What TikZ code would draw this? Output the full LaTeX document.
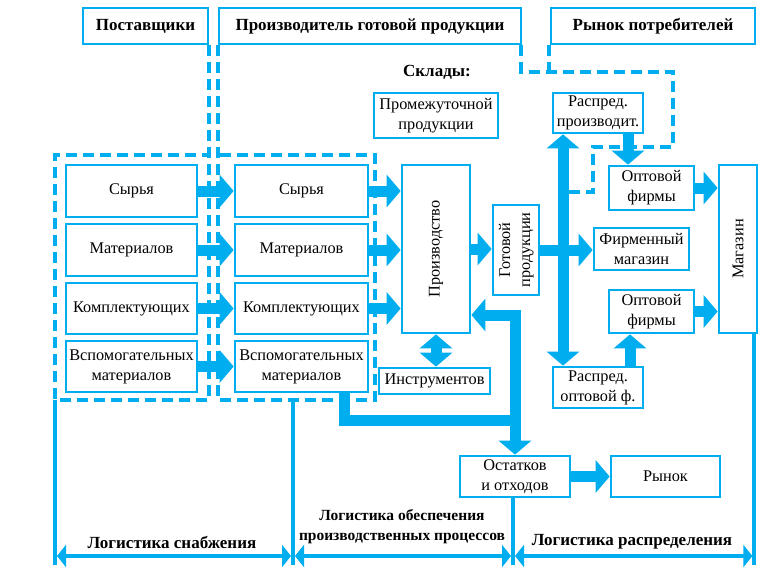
\documentclass[tikz,border=0pt]{standalone}
\usepackage{fontspec}
\setmainfont{Liberation Serif}
\usepackage{graphicx}
\usetikzlibrary{arrows.meta}
\definecolor{lblue}{RGB}{0,174,239}

\begin{document}
\begin{tikzpicture}[x=1pt,y=-1pt,
        box/.style={draw=lblue,line width=2.7pt,fill=white,align=center,inner sep=0pt,
          font=\fontsize{16.3}{20}\selectfont},
        head/.style={box,font=\bfseries\fontsize{17}{20}\selectfont,minimum height=36pt},
        lbl/.style={align=center,font=\bfseries\fontsize{17}{20}\selectfont},
        fat/.style={draw=lblue,line width=11pt,-{Triangle[width=32pt,length=14pt]}},
        fatboth/.style={draw=lblue,line width=11pt,{Triangle[width=32pt,length=14pt]}-{Triangle[width=32pt,length=14pt]}},
        fatline/.style={draw=lblue,line width=11pt},
        dashln/.style={draw=lblue,line width=4pt,dash pattern=on 11pt off 6pt},
        solidln/.style={draw=lblue,line width=4pt},
        dimarr/.style={solidln,{Triangle[width=22pt,length=9pt]}-{Triangle[width=22pt,length=9pt]}}]
        \useasboundingbox (0,0) rectangle (771,576);

        % levels used by the connectors
        \coordinate (dtop) at (0,155);
        \coordinate (dbot) at (0,400);
        \coordinate (ret) at (0,315);
        \coordinate (lvl) at (0,420);
        \coordinate (barx) at (563,0);
        \coordinate (opt1x) at (628,0);
        \coordinate (opt2x) at (630,0);
        \coordinate (low) at (0,565);
        \coordinate (dim) at (0,556);

        % headers
        \node[head,minimum width=125pt] (post) at (145.5,26) {Поставщики};
        \node[head,minimum width=302pt] (maker) at (370,26) {Производитель готовой продукции};
        \node[head,minimum width=204pt] (market) at (653,26) {Рынок потребителей};
        \node[lbl] (sklad) at (437,72) {Склады:};

        % dashed frames
        \draw[dashln] (post.south east) -- (post.south east |- dbot) -- (55,400) -- (55,155) -- (post.south east |- dtop);
        \draw[dashln] (maker.south west) -- (maker.south west |- dbot) -- (375,400) -- (375,155) -- (maker.south west |- dtop);
        \draw[dashln] ([xshift=-1pt]maker.south east) |- (673,72) |- (593,147) |- (568,192);
        \draw[dashln] ([xshift=-1pt]market.south west) -- ([xshift=-1pt]market.south west |- 0,72);

        % warehouses of the suppliers
        \node[box,minimum width=131pt,minimum height=52pt] (s1) at (131.5,191) {Сырья};
        \node[box,minimum width=131pt,minimum height=52pt] (m1) at (131.5,250) {Материалов};
        \node[box,minimum width=131pt,minimum height=51pt] (k1) at (131.5,308.5) {Комплектующих};
        \node[box,minimum width=131pt,minimum height=51pt] (v1) at (131.5,366.5) {Вспомогательных\\материалов};

        % warehouses of the producer
        \node[box,minimum width=133pt,minimum height=52pt] (s2) at (301.5,191) {Сырья};
        \node[box,minimum width=133pt,minimum height=52pt] (m2) at (301.5,250) {Материалов};
        \node[box,minimum width=133pt,minimum height=51pt] (k2) at (301.5,308.5) {Комплектующих};
        \node[box,minimum width=133pt,minimum height=51pt] (v2) at (301.5,366.5) {Вспомогательных\\материалов};

        \node[box,minimum width=124pt,minimum height=45pt] (inter) at (436,115.5) {Промежуточной\\продукции};
        \node[box,minimum width=68pt,minimum height=168pt] (prod) at (436,249) {\rotatebox{90}{Производство}};
        \node[box,minimum width=111pt,minimum height=26pt] (tools) at (434.5,381) {Инструментов};
        \node[box,minimum width=46pt,minimum height=90pt] (ready) at (516,250)
          {\rotatebox{90}{\begin{tabular}{@{}c@{}}Готовой\\продукции\end{tabular}}};

        % distribution
        \node[box,minimum width=90pt,minimum height=40pt] (dist1) at (598,113) {Распред.\\производит.};
        \node[box,minimum width=85pt,minimum height=44pt] (whole1) at (651.5,188) {Оптовой\\фирмы};
        \node[box,minimum width=95pt,minimum height=42pt] (brand) at (641.5,249) {Фирменный\\магазин};
        \node[box,minimum width=85pt,minimum height=43pt] (whole2) at (651.5,311.5) {Оптовой\\фирмы};
        \node[box,minimum width=90pt,minimum height=41pt] (dist2) at (598,387.5) {Распред.\\оптовой ф.};
        \node[box,minimum width=38pt,minimum height=168pt] (shop) at (738,249) {\rotatebox{90}{Магазин}};

        \node[box,minimum width=110pt,minimum height=41pt] (rest) at (515,476.5) {Остатков\\и отходов};
        \node[box,minimum width=109pt,minimum height=41pt] (sale) at (665.5,476.5) {Рынок};

        % flows
        \draw[fat] (s1.east) -- (s2.west);
        \draw[fat] (m1.east) -- (m2.west);
        \draw[fat] (k1.east) -- (k2.west);
        \draw[fat] (v1.east) -- (v2.west);
        \draw[fat] (s2.east) -- (s2.east -| prod.west);
        \draw[fat] (m2.east) -- (m2.east -| prod.west);
        \draw[fat] (k2.east) -- (k2.east -| prod.west);
        \draw[fatboth] (prod.south) -- (prod.south |- tools.north);
        \draw[fat] (prod.east) -- (prod.east -| ready.west);
        \draw[fatboth] (prod.east |- ret) -- (rest.north |- ret) -- (rest.north);
        \draw[fatline] ([xshift=-25pt]v2.south east) |- (rest.north |- lvl);
        \draw[fatboth] (dist2.north -| barx) -- (dist1.south -| barx);
        \draw[fat] (ready.east) -- (ready.east -| brand.west);
        \draw[fat] (dist1.south -| opt1x) -- (whole1.north -| opt1x);
        \draw[fat] (dist2.north -| opt2x) -- (whole2.south -| opt2x);
        \draw[fat] (whole1.east) -- (whole1.east -| shop.west);
        \draw[fat] (whole2.east) -- (whole2.east -| shop.west);
        \draw[fat] (rest.east) -- (sale.west);

        % logistics spans
        \draw[solidln] (55,400) -- (55,565);
        \draw[solidln] (293,400) -- (293,565);
        \draw[solidln] ([xshift=-2pt]rest.south) -- ([xshift=-2pt]rest.south |- low);
        \draw[solidln] ([xshift=-4pt]shop.south east) -- ([xshift=-4pt]shop.south east |- low);
        \draw[dimarr] (57,556) -- (291,556);
        \draw[dimarr] (295,556) -- ([xshift=-4pt]rest.south |- dim);
        \draw[dimarr] (rest.south |- dim) -- ([xshift=-6pt]shop.south east |- dim);

        \node[lbl] (supply) at (172,542) {Логистика снабжения};
        \node[lbl,font=\bfseries\fontsize{15.5}{20}\selectfont] (manuf) at (402,527) {Логистика обеспечения\\производственных процессов};
        \node[lbl] (distr) at (632,542) {Логистика распределения};
      \end{tikzpicture}
\end{document}
